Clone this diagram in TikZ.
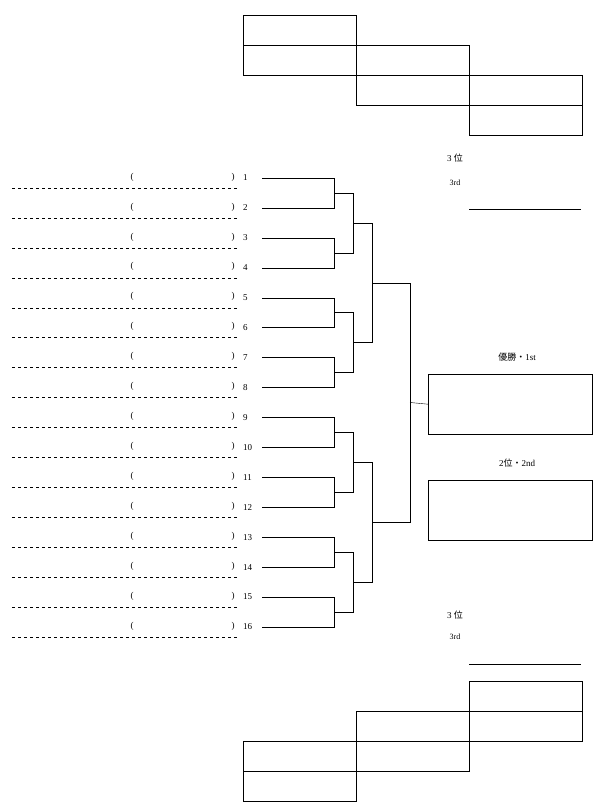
\documentclass[tikz,border=0pt]{standalone}
\usepackage{fontspec}
\setmainfont{Liberation Serif}
\newfontfamily\jpfont{Noto Sans CJK JP}
\usetikzlibrary{positioning,calc}
\tikzset{wire/.style={draw, thin},
  cell/.style={draw, thin, minimum width=113pt, minimum height=30pt, inner sep=0pt},
  result/.style={draw, thin, minimum width=164pt, minimum height=60pt, inner sep=0pt},
  label/.style={font=\small}}
\begin{document}
\begin{tikzpicture}[x=1pt,y=-1pt]
    \useasboundingbox (0,0) rectangle (600,809);
    % top score grid
    \foreach \c/\x/\y in {1/243/15,2/356/45,3/469/75}{
        \node[cell,anchor=north west] (ta\c) at (\x,\y) {};
        \node[cell,anchor=north west] (tb\c) at (\x,\y+30) {};
    }
    % bottom score grid
    \foreach \c/\x/\y in {1/243/741,2/356/711,3/469/681}{
        \node[cell,anchor=north west] (ba\c) at (\x,\y) {};
        \node[cell,anchor=north west] (bb\c) at (\x,\y+30) {};
    }
    % entries
    \foreach \i in {1,...,16}{
        \pgfmathsetmacro\yy{178+29.93*(\i-1)}
        \node[label,anchor=west,inner sep=0pt] (n\i) at (243,\yy) {\i};
        \node[label,inner sep=0pt] (lp\i) at (132,\yy-1) {(};
        \node[label,inner sep=0pt] (rp\i) at (233,\yy-1) {)};
        \draw[dashed] (12,\yy+10) -- (237,\yy+10);
        \coordinate (e\i) at (262,\yy);
    }
    % round 1
    \foreach \a/\b in {1/2,3/4,5/6,7/8,9/10,11/12,13/14,15/16}{
        \draw[wire] (e\a) -- (334,0 |- e\a) -- (334,0 |- e\b) -- (e\b);
    }
    \foreach \k in {1,...,8}{
        \pgfmathsetmacro\yy{178+29.93*(2*\k-1.5)}
        \coordinate (r\k) at (334,\yy);
    }
    % round 2
    \foreach \a/\b/\k in {1/2/1,3/4/2,5/6/3,7/8/4}{
        \draw[wire] (r\a) -- (353,0 |- r\a) -- (353,0 |- r\b) -- (r\b);
        \coordinate (q\k) at ($(353,0 |- r\a)!0.5!(353,0 |- r\b)$);
    }
    % round 3
    \foreach \a/\b/\k in {1/2/1,3/4/2}{
        \draw[wire] (q\a) -- (372,0 |- q\a) -- (372,0 |- q\b) -- (q\b);
        \coordinate (s\k) at ($(372,0 |- q\a)!0.5!(372,0 |- q\b)$);
    }
    % final
    \draw[wire] (s1) -- (410,0 |- s1) -- (410,0 |- s2) -- (s2);
    \coordinate (f) at ($(410,0 |- s1)!0.5!(410,0 |- s2)$);
    \node[result,anchor=north west] (first) at (428,374) {};
    \node[result,anchor=north west] (second) at (428,480) {};
    \draw[wire] (f) -- (first.west);
    \node[label] (lfirst) at (517,357) {{\jpfont 優勝・}1st};
    \node[label] (lsecond) at (517,463) {2{\jpfont 位・}2nd};
    % third places
    \node[label] (tj) at (455,158) {3 {\jpfont 位}};
    \node[label,font=\footnotesize] (te) at (455,183) {3rd};
    \draw[wire] (469,209) -- (581,209);
    \node[label] (bj) at (455,615) {3 {\jpfont 位}};
    \node[label,font=\footnotesize] (be) at (455,637) {3rd};
    \draw[wire] (469,664) -- (581,664);
\end{tikzpicture}
\end{document}
